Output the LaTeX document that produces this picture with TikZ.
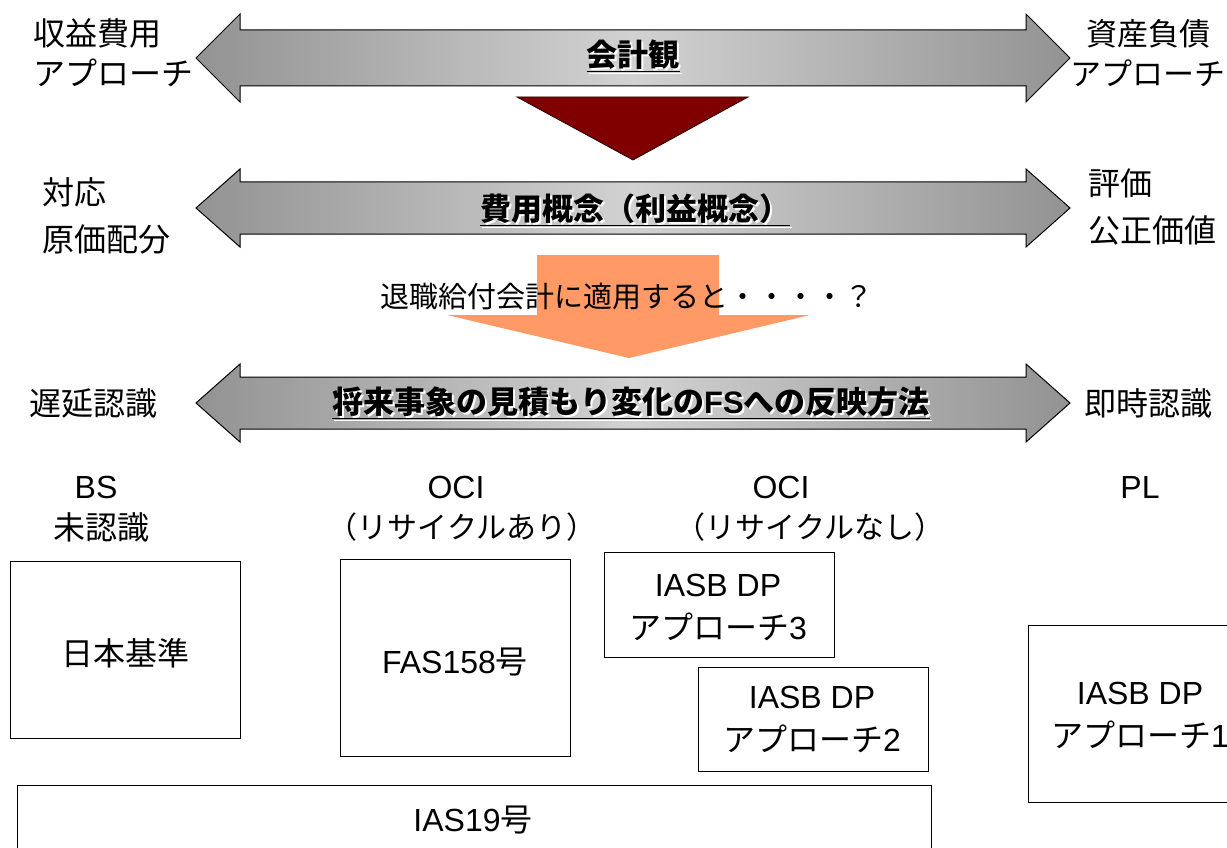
\documentclass[tikz,border=0pt]{standalone}
\usepackage{fontspec}
\setmainfont{Liberation Sans}
\newfontfamily\jp{Noto Sans CJK JP}
\definecolor{adark}{HTML}{535353}
\definecolor{alight}{HTML}{D2D2D2}
\definecolor{tri}{HTML}{800000}
\definecolor{orng}{HTML}{FF9966}
\pgfdeclarehorizontalshading{arrowgrad}{100bp}{color(0bp)=(adark); color(50bp)=(alight); color(100bp)=(adark)}
\newcommand\gradarrow[3]{%
  \draw[bigarrow] (196,#1) -- (240,#1-#2) -- (240,#1-#3) -- (1026,#1-#3) -- (1026,#1-#2) -- (1070,#1)
    -- (1026,#1+#2) -- (1026,#1+#3) -- (240,#1+#3) -- (240,#1+#2) -- cycle;}
\begin{document}
\begin{tikzpicture}[x=1pt,y=-1pt,
  bigarrow/.style={shading=arrowgrad, draw=black, line width=1pt},
  lbl/.style={inner sep=0pt, font=\jp\fontsize{32}{40}\selectfont},
  albl/.style={inner sep=0pt, font=\jp\bfseries\fontsize{31}{38}\selectfont},
  ashadow/.style={albl, text=white},
  box/.style={draw=black, line width=1pt, fill=none},
  btxt/.style={inner sep=0pt, align=center, font=\fontsize{32}{43}\selectfont}]
\useasboundingbox (0,0) rectangle (1227,848);
\clip (0,0) rectangle (1227,848);
\fill[white] (0,0) rectangle (1227,848);

% top arrow
\gradarrow{58}{44}{28}
\node[ashadow] (a1s) at (635,58) {\underline{会計観}};
\node[albl] (a1) at (633,56) {\underline{会計観}};
\node[lbl, anchor=west, align=left, font=\jp\fontsize{32}{40}\selectfont] (l1) at (33,53) {収益費用\\アプローチ};
\node[lbl, align=center, font=\jp\fontsize{31}{40}\selectfont] (r1) at (1148,53) {資産負債\\アプローチ};

% dark red triangle
\draw[fill=tri, draw=black!70!tri, line width=0.8pt] (517,97) -- (748,97) -- (633,160) -- cycle;

% second arrow
\gradarrow{208}{39}{26}
\node[ashadow] (a2s) at (637,212) {\underline{費用概念（利益概念）}};
\node[albl] (a2) at (635,210) {\underline{費用概念（利益概念）}};
\node[lbl, anchor=west, align=left, font=\jp\fontsize{32}{47}\selectfont] (l2) at (42,216) {対応\\原価配分};
\node[lbl, anchor=west, align=left, font=\jp\fontsize{32}{47}\selectfont] (r2) at (1088,207) {評価\\公正価値};

% orange arrow
\fill[orng] (537,255) -- (719,255) -- (719,315) -- (810,315) -- (629,358) -- (447,315) -- (537,315) -- cycle;
\node[inner sep=0pt, font=\jp\fontsize{29}{34}\selectfont] (q) at (627,297) {退職給付会計に適用すると・・・・？};

% third arrow
\gradarrow{403}{39}{26}
\node[ashadow] (a3s) at (633,405) {\underline{将来事象の見積もり変化の{\fontspec{Liberation Sans}\bfseries FS}への反映方法}};
\node[albl] (a3) at (631,403) {\underline{将来事象の見積もり変化の{\fontspec{Liberation Sans}\bfseries FS}への反映方法}};
\node[lbl] (l3) at (94,403) {遅延認識};
\node[lbl] (r3) at (1148,403) {即時認識};

% column headers
\node[btxt] (h1a) at (96,487) {BS};
\node[lbl] (h1b) at (101,527) {未認識};
\node[btxt] (h2a) at (456,487) {OCI};
\node[lbl, font=\jp\fontsize{30}{36}\selectfont] (h2b) at (462,527) {（リサイクルあり）};
\node[btxt] (h3a) at (781,487) {OCI};
\node[lbl, font=\jp\fontsize{30}{36}\selectfont] (h3b) at (810,527) {（リサイクルなし）};
\node[btxt] (h4a) at (1140,487) {PL};

% boxes
\draw[box] (10,561) rectangle (240,738);
\node[btxt] (b1) at (125,653) {\jp 日本基準};
\draw[box] (340,559) rectangle (570,756);
\node[btxt] (b2) at (455,662) {FAS158{\jp 号}};
\draw[box] (604,552) rectangle (834,657);
\node[btxt] (b3) at (718,607) {IASB DP\\{\jp アプローチ}3};
\draw[box] (698,667) rectangle (928,771);
\node[btxt] (b4) at (812,719) {IASB DP\\{\jp アプローチ}2};
\draw[box] (17,785) rectangle (931,870);
\node[btxt] (b5) at (473,820) {IAS19{\jp 号}};
\draw[box] (1028,625) rectangle (1240,802);
\node[btxt] (b6) at (1140,715) {IASB DP\\{\jp アプローチ}1};
\end{tikzpicture}
\end{document}
